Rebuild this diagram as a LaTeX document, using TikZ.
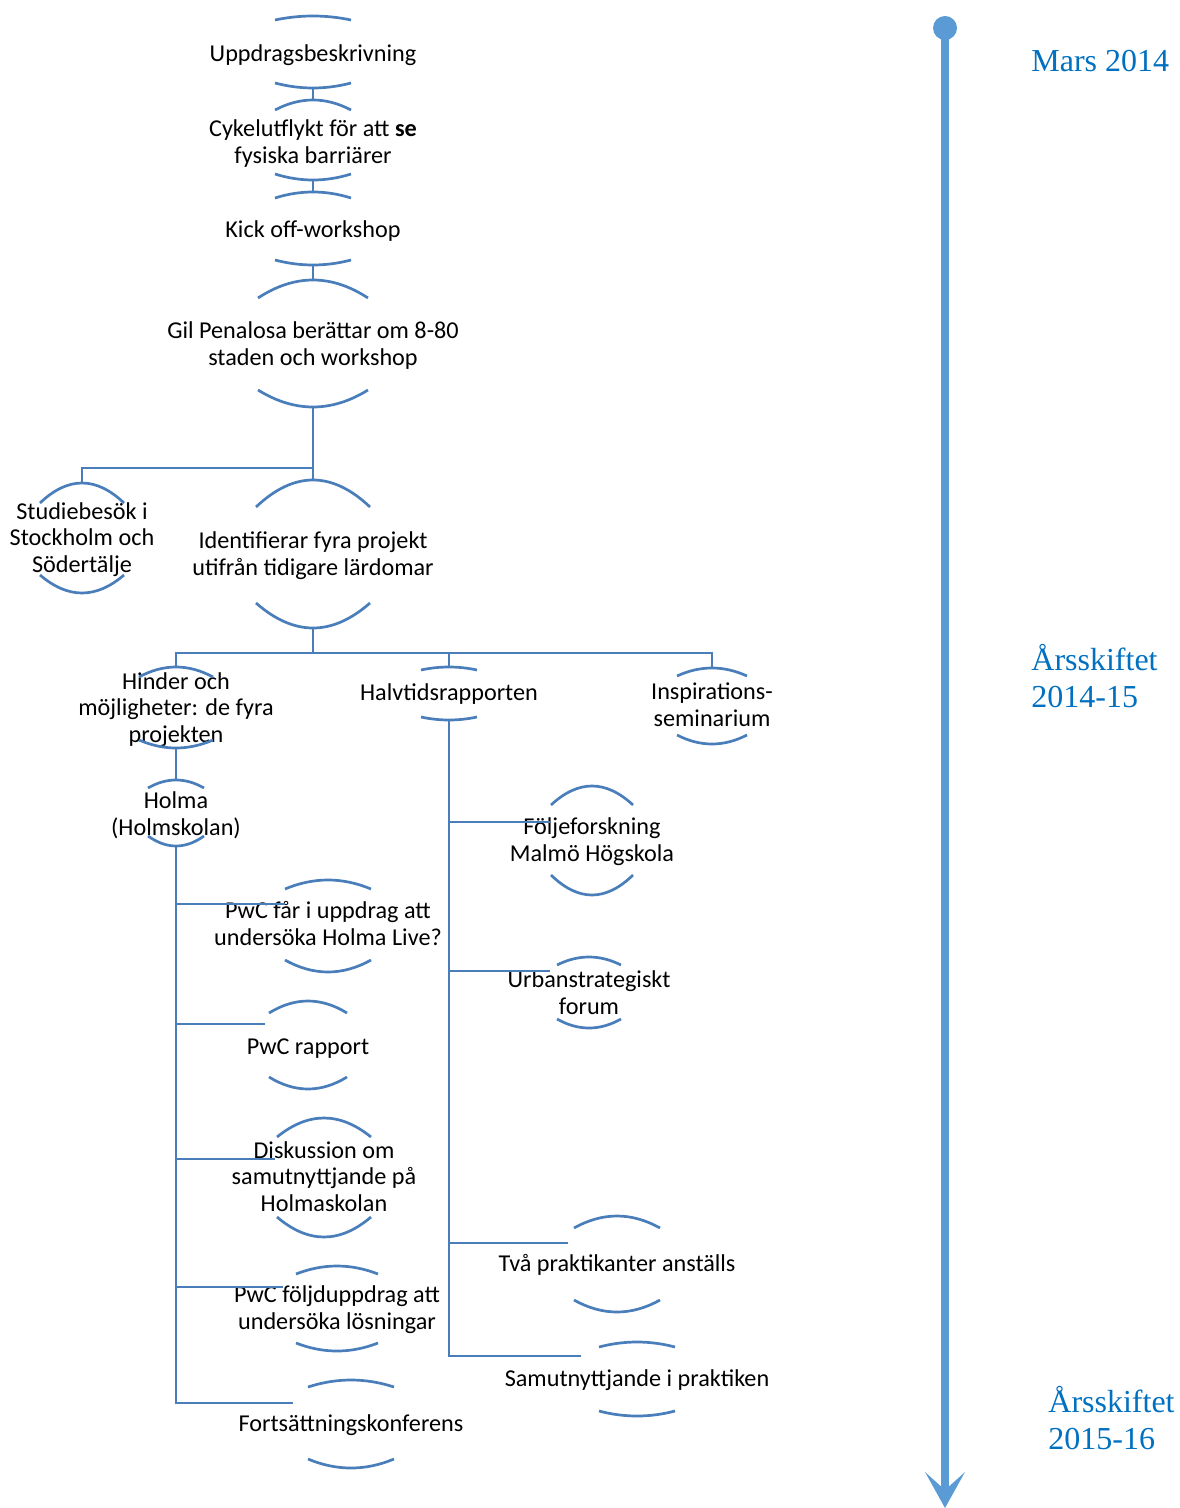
\documentclass[tikz,border=0pt]{standalone}
\usepackage{fontspec}
\setmainfont{Carlito}
\newfontfamily\tnr{Liberation Serif}
\definecolor{arcblue}{RGB}{74,126,187}
\definecolor{tlblue}{RGB}{91,155,213}
\definecolor{lblblue}{RGB}{0,112,192}
\tikzset{
  lbl/.style={font=\fontsize{12.1pt}{13.3pt}\selectfont, align=center, inner sep=0pt, text=black, yshift=-0.75pt},
  arcline/.style={draw=arcblue, line width=1.35pt},
  conn/.style={draw=arcblue, line width=1.45pt},
  tllbl/.style={font=\tnr\fontsize{16pt}{18.4pt}\selectfont, text=lblblue, align=left, inner sep=0pt, anchor=base west, yshift=-1.25pt},
}
% name, cx, topPeak, topEnd, halfwidth, botEnd, botPeak, last-line baseline, text
\newcommand\nodeunit[9]{%
  \node[lbl, anchor=base] (#1) at (#2,#8) {#9};
  \coordinate (#1t) at (#2,#3);
  \coordinate (#1b) at (#2,#7);
  \draw[arcline] ({#2-#5},#4) .. controls ({#2-#5/3},{(4*#3-#4)/3}) and ({#2+#5/3},{(4*#3-#4)/3}) .. ({#2+#5},#4);
  \draw[arcline] ({#2-#5},#6) .. controls ({#2-#5/3},{(4*#7-#6)/3}) and ({#2+#5/3},{(4*#7-#6)/3}) .. ({#2+#5},#6);
}
\begin{document}
\begin{tikzpicture}[x=0.5pt,y=-0.5pt]
\useasboundingbox (0,0) rectangle (1179,1508);

\nodeunit{n1}{313}{16}{20}{38}{83}{88}{60}{Uppdragsbeskrivning}
\nodeunit{n2}{313}{100}{110}{38}{174}{180}{162}{Cykelutflykt för att \textbf{se}\\fysiska barriärer}
\nodeunit{n3}{313}{192}{198}{38}{260}{265}{236}{Kick off-workshop}
\nodeunit{n4}{313}{280}{298}{55}{390}{407}{364}{Gil Penalosa berättar om 8-80\\staden och workshop}
\nodeunit{n5}{82}{483}{503}{42}{575}{593}{571}{Studiebesök i\\Stockholm och\\Södertälje}
\nodeunit{n6}{313}{480}{507}{57}{603}{628}{574}{Identifierar fyra projekt\\utifrån tidigare lärdomar}
\nodeunit{n7}{176}{667}{677}{37}{740}{748}{741}{Hinder och\\möjligheter: de fyra\\projekten}
\nodeunit{n8}{449}{667}{670}{28}{717}{720}{699}{Halvtidsrapporten}
\nodeunit{n9}{712}{668}{676}{35}{735}{744}{725}{Inspirations-\\seminarium}
\nodeunit{n10}{176}{780}{788}{28}{836}{846}{834}{Holma\\(Holmskolan)}
\nodeunit{n11}{592}{786}{805}{41}{875}{895}{860}{Följeforskning\\Malmö Högskola}
\nodeunit{n12}{589}{957}{965}{32}{1019}{1028}{1013}{Urbanstrategiskt\\forum}
\nodeunit{n13}{328}{880}{889}{43}{960}{972}{944}{PwC får i uppdrag att\\undersöka Holma Live?}
\nodeunit{n14}{308}{1001}{1013}{39}{1077}{1089}{1053}{PwC rapport}
\nodeunit{n15}{324}{1118}{1137}{47}{1217}{1237}{1210}{Diskussion om\\samutnyttjande på\\Holmaskolan}
\nodeunit{n16}{337}{1266}{1274}{41}{1343}{1351}{1328}{PwC följduppdrag att\\undersöka lösningar}
\nodeunit{n17}{351}{1380}{1387}{43}{1459}{1468}{1430}{Fortsättningskonferens}
\nodeunit{n18}{617}{1216}{1228}{43}{1300}{1312}{1270}{Två praktikanter anställs}
\nodeunit{n19}{637}{1342}{1347}{38}{1411}{1416}{1385}{Samutnyttjande i praktiken}

% junctions and branch ends
\coordinate (j1) at (313,468);
\coordinate (j2) at (313,653);
\coordinate (n11w) at (550,822);
\coordinate (n12w) at (550,971);
\coordinate (n18w) at (568,1243);
\coordinate (n19w) at (581,1356);
\coordinate (n13w) at (285,904);
\coordinate (n14w) at (265,1024);
\coordinate (n15w) at (275,1159);
\coordinate (n16w) at (283,1287);
\coordinate (n17w) at (293,1403);

% connectors
\draw[conn] (n1b) -- (n2t);
\draw[conn] (n2b) -- (n3t);
\draw[conn] (n3b) -- (n4t);
\draw[conn] (n4b) -- (n6t);
\draw[conn] (j1) -| (n5t);
\draw[conn] (n6b) -- (j2);
\draw[conn] (n7t) |- (j2) -| (n9t);
\draw[conn] (n8t) -- (n8t |- j2);
\draw[conn] (n7b) -- (n10t);
\draw[conn] (n10b) |- (n17w);
\draw[conn] (n10b |- n13w) -- (n13w);
\draw[conn] (n10b |- n14w) -- (n14w);
\draw[conn] (n10b |- n15w) -- (n15w);
\draw[conn] (n10b |- n16w) -- (n16w);
\draw[conn] (n8b) |- (n19w);
\draw[conn] (n8b |- n11w) -- (n11w);
\draw[conn] (n8b |- n12w) -- (n12w);
\draw[conn] (n8b |- n18w) -- (n18w);

% timeline
\coordinate (tlS) at (945,28);
\coordinate (tlE) at (945,1490);
\draw[tlblue, line width=4pt] (tlS) -- (tlE);
\fill[tlblue] (tlS) circle[radius=6pt];
\fill[tlblue] (945,1508) -- (925,1472) -- (tlE) -- (965,1472) -- cycle;

\node[tllbl] (t1) at (1031,69) {Mars 2014};
\node[tllbl] (t2) at (1031,705) {Årsskiftet\\2014-15};
\node[tllbl] (t3) at (1048,1447) {Årsskiftet\\2015-16};
\end{tikzpicture}
\end{document}
